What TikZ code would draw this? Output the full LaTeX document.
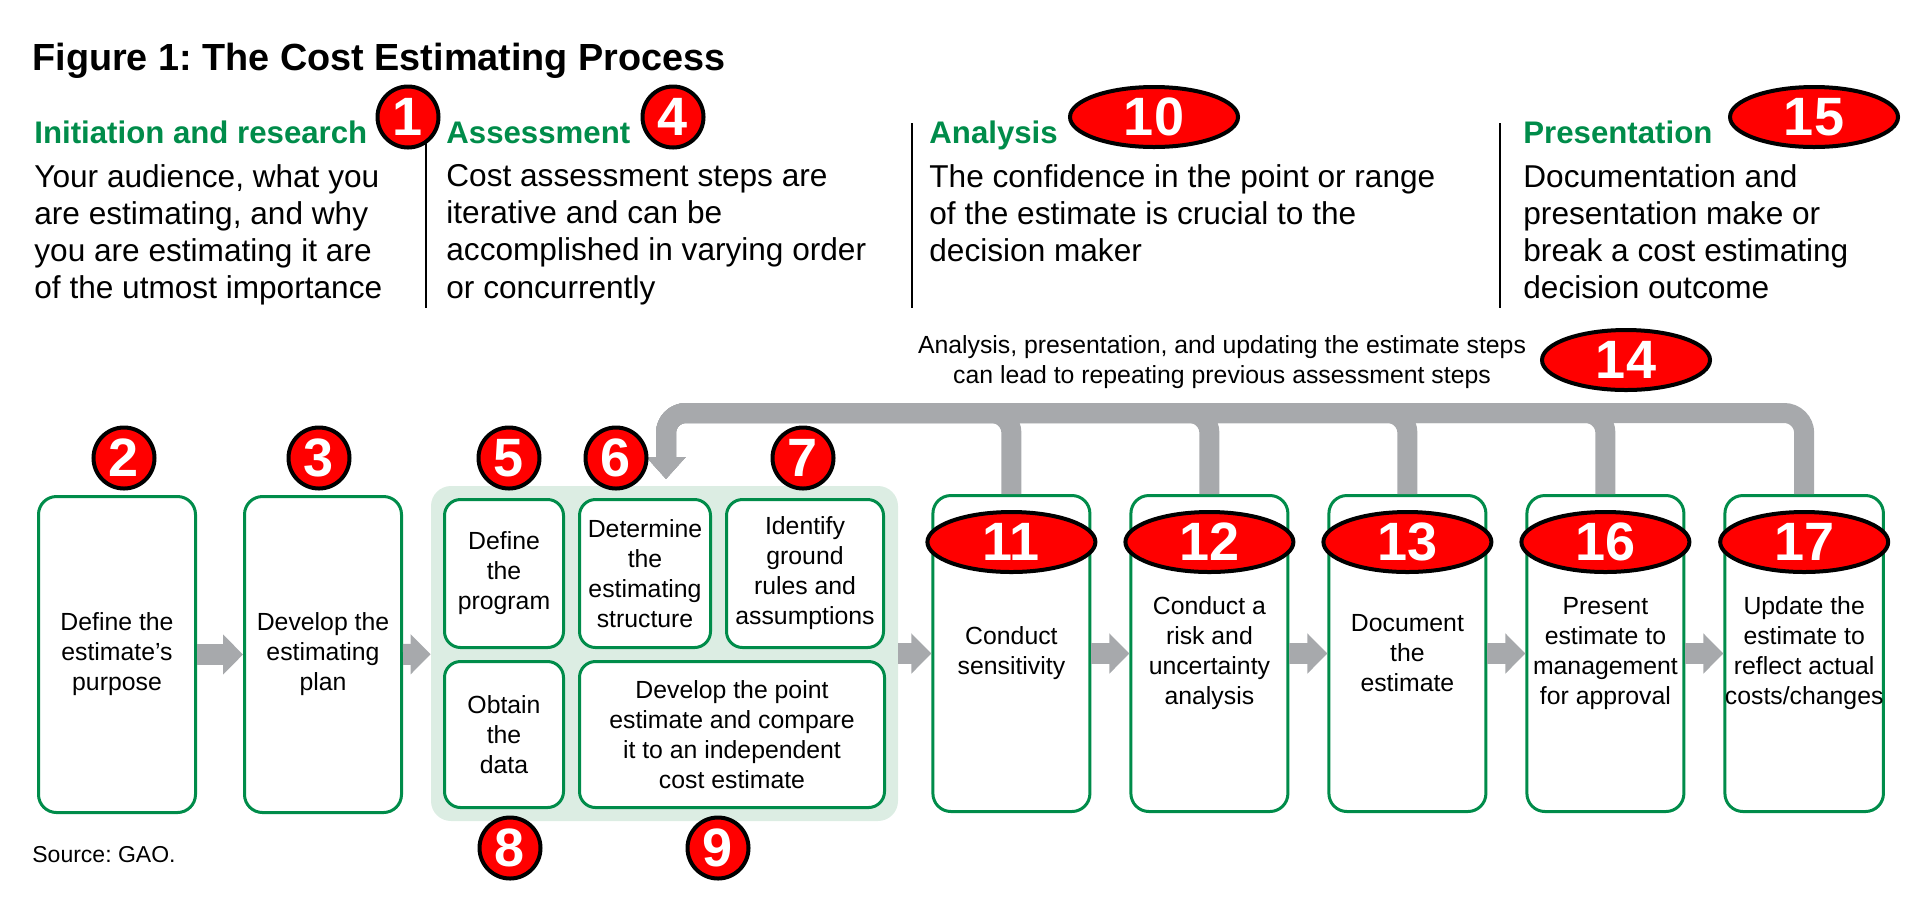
\documentclass[tikz,border=0pt]{standalone}
\usepackage{fontspec}
\setmainfont{Liberation Sans}
\usetikzlibrary{arrows.meta, positioning, shapes.geometric, fit, backgrounds}
\definecolor{gaogreen}{RGB}{0,140,74}
\definecolor{loopgray}{RGB}{167,169,172}
\definecolor{panelgreen}{RGB}{220,237,227}
\definecolor{badgered}{RGB}{255,0,0}
\frenchspacing
\newcommand{\boxfont}{\fontsize{12.4}{15}\selectfont}
\newcommand{\badgefont}{\fontsize{27}{27}\selectfont\bfseries}
\newcommand{\bodyfont}{\fontsize{15.8}{18.6}\selectfont}
\tikzset{
  stage/.style={
    draw=gaogreen,
    line width=1.5pt,
    rounded corners=9pt,
    fill=white,
    minimum width=78.5pt,
    minimum height=158pt,
    align=center,
    inner xsep=0pt,
    font=\boxfont
  },
  substage/.style={
    stage,
    rounded corners=8pt,
    minimum height=74pt
  },
  badge/.style={
    circle,
    draw=black,
    line width=2pt,
    fill=badgered,
    text=white,
    minimum size=30.5pt,
    inner sep=0pt,
    font=\badgefont
  },
  badgewide/.style={
    badge,
    ellipse,
    minimum width=84pt,
    minimum height=30pt
  },
  phasehead/.style={
    anchor=base west,
    inner sep=0pt,
    text=gaogreen,
    font=\fontsize{15.6}{18}\selectfont\bfseries
  },
  phasetext/.style={
    anchor=north west,
    inner sep=0pt,
    align=left,
    font=\bodyfont
  },
  flow/.style={
    draw=loopgray,
    line width=10.5pt,
    -{Triangle[length=10pt,width=19.5pt]}
  },
  loopback/.style={
    draw=loopgray,
    line width=10pt,
    rounded corners=10pt,
    -{Triangle[length=11pt,width=19pt]}
  }
}
\begin{document}
\begin{tikzpicture}[x=0.5pt, y=-0.5pt]
  \useasboundingbox (0,0) rectangle (1920,896);

  % Titre et phases
  \node[anchor=base west, inner sep=0pt, font=\fontsize{18.9}{22}\selectfont\bfseries] (title) at (32,70) {Figure 1: The Cost Estimating Process};
  \node[phasehead] (inithead) at (34,143) {Initiation and research};
  \node[phasehead] (assesshead) at (446,143) {Assessment};
  \node[phasehead] (analysishead) at (929,143) {Analysis};
  \node[phasehead] (presenthead) at (1523,143) {Presentation};

  \node[phasetext] (inittext) at (34,164) {Your audience, what you\\are estimating, and why\\you are estimating it are\\of the utmost importance};
  \node[phasetext] (assesstext) at (446,164) {Cost assessment steps are\\iterative and can be\\accomplished in varying order\\or concurrently};
  \node[phasetext] (analysistext) at (929,164) {The confidence in the point or range\\of the estimate is crucial to the\\decision maker};
  \node[phasetext] (presenttext) at (1523,164) {Documentation and\\presentation make or\\break a cost estimating\\decision outcome};

  \draw[line width=1pt] (426,123) -- (426,308);
  \draw[line width=1pt] (912,123) -- (912,308);
  \draw[line width=1pt] (1500,123) -- (1500,308);

  % Etapes
  \node[stage, anchor=north west] (b2) at (37,495) {Define the\\estimate's\\purpose};
  \node[stage, right=23pt of b2] (b3) {Develop the\\estimating\\plan};

  \node[substage, anchor=north west, minimum width=59.5pt] (b5) at (443,498) {Define\\the\\program};
  \node[substage, right=6.5pt of b5, minimum width=65.5pt] (b6) {Determine\\the\\estimating\\structure};
  \node[substage, right=6.5pt of b6, minimum width=78.5pt] (b7) {Identify\\ground\\rules and\\assumptions};
  \node[substage, below=5.5pt of b5, minimum width=59.5pt, minimum height=73pt] (b8) {Obtain\\the\\data};
  \node[substage, right=6.5pt of b8, minimum width=152.5pt, minimum height=73pt] (b9) {Develop the point\\estimate and compare\\it to an independent\\cost estimate};
  \begin{scope}[on background layer]
    \node[fill=panelgreen, rounded corners=10pt, inner sep=6pt, fit=(b5)(b7)(b9)] (grp) {};
  \end{scope}

  \node[stage, right=16.5pt of grp] (b11) {Conduct\\sensitivity};
  \node[stage, right=19pt of b11] (b12) {Conduct a\\risk and\\uncertainty\\analysis};
  \node[stage, right=19pt of b12] (b13) {Document\\the\\estimate};
  \node[stage, right=19pt of b13] (b16) {Present\\estimate to\\management\\for approval};
  \node[stage, right=19pt of b16] (b17) {Update the\\estimate to\\reflect actual\\costs/changes};

  % Fleches
  \draw[flow] (b2) -- (b3);
  \draw[flow] (b3) -- (grp);
  \draw[flow] (grp) -- (b11);
  \draw[flow] (b11) -- (b12);
  \draw[flow] (b12) -- (b13);
  \draw[flow] (b13) -- (b16);
  \draw[flow] (b16) -- (b17);

  % Retour vers l'evaluation
  \coordinate (fbtop) at (666,413);
  \coordinate (fbtip) at (666,479);
  \foreach \b in {b17,b16,b13,b12,b11}
    \draw[loopback] (\b.north) |- (fbtop) -- (fbtip);
  \node[align=center, font=\boxfont] (looptext) at (1222,362) {Analysis, presentation, and updating the estimate steps\\can lead to repeating previous assessment steps};

  % Numeros
  \node[badge] (n1) at (408,117) {1};
  \node[badge] (n4) at (673,117) {4};
  \node[badgewide] (n10) at (1154,117) {10};
  \node[badgewide] (n15) at (1814,117) {15};
  \node[badgewide] (n14) at (1626,360) {14};
  \node[badge] (n2) at (124,458) {2};
  \node[badge] (n3) at (319,458) {3};
  \node[badge] (n5) at (509,458) {5};
  \node[badge] (n6) at (616,458) {6};
  \node[badge] (n7) at (803,458) {7};
  \node[badge] (n8) at (510,848) {8};
  \node[badge] (n9) at (718,848) {9};
  \foreach \b/\n in {b11/11,b12/12,b13/13,b16/16,b17/17}
    \node[badgewide] (n\n) at ([yshift=-24pt]\b.north) {\n};

  \node[anchor=base west, inner sep=0pt, font=\fontsize{11.5}{14}\selectfont] (source) at (32,862) {Source: GAO.};
\end{tikzpicture}
\end{document}
